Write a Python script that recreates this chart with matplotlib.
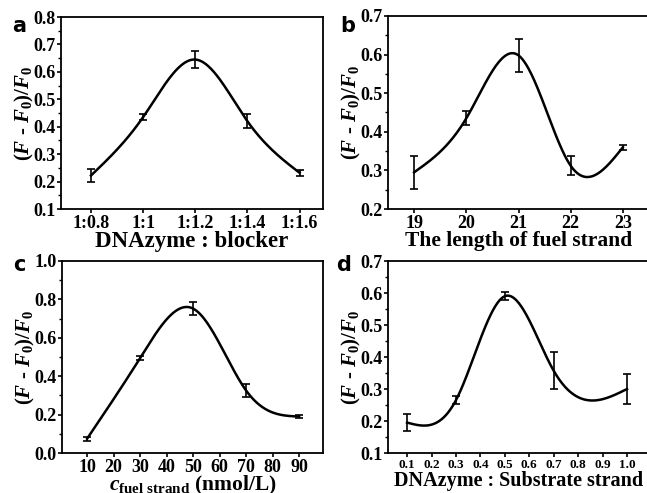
import numpy as np
import matplotlib.pyplot as plt
from matplotlib.ticker import MultipleLocator

plt.rcParams['font.family'] = ['Liberation Serif', 'DejaVu Serif']
plt.rcParams['font.weight'] = 'bold'
plt.rcParams['axes.labelweight'] = 'bold'
plt.rcParams['mathtext.fontset'] = 'custom'
plt.rcParams['mathtext.rm'] = 'Liberation Serif:bold'
plt.rcParams['mathtext.it'] = 'Liberation Serif:italic:bold'
plt.rcParams['mathtext.bf'] = 'Liberation Serif:bold'

# panel a
ratio_blocker = [0.8, 1.0, 1.2, 1.4, 1.6]
ratio_labels = ['1:0.8', '1:1', '1:1.2', '1:1.4', '1:1.6']
a_y = [0.222, 0.435, 0.645, 0.420, 0.232]
a_err = [0.025, 0.010, 0.030, 0.025, 0.010]

# panel b
fuel_len = [19, 20, 21, 22, 23]
b_y = [0.295, 0.435, 0.598, 0.312, 0.360]
b_err = [0.042, 0.018, 0.043, 0.025, 0.006]

# panel c
fuel_conc = [10, 30, 50, 70, 90]
conc_ticks = [10, 20, 30, 40, 50, 60, 70, 80, 90]
c_y = [0.075, 0.495, 0.752, 0.325, 0.190]
c_err = [0.010, 0.010, 0.035, 0.035, 0.008]

# panel d
ratio_sub = [0.1, 0.3, 0.5, 0.7, 1.0]
sub_ticks = [0.1, 0.2, 0.3, 0.4, 0.5, 0.6, 0.7, 0.8, 0.9, 1.0]
d_y = [0.195, 0.265, 0.590, 0.357, 0.300]
d_err = [0.027, 0.012, 0.012, 0.058, 0.048]


def natural_spline(x, y, n=300):
    x = np.asarray(x, float)
    y = np.asarray(y, float)
    k = len(x)
    h = np.diff(x)
    A = np.zeros((k, k))
    r = np.zeros(k)
    A[0, 0] = A[-1, -1] = 1
    for i in range(1, k - 1):
        A[i, i - 1] = h[i - 1]
        A[i, i] = 2 * (h[i - 1] + h[i])
        A[i, i + 1] = h[i]
        r[i] = 6 * ((y[i + 1] - y[i]) / h[i] - (y[i] - y[i - 1]) / h[i - 1])
    m = np.linalg.solve(A, r)
    xs = np.linspace(x[0], x[-1], n)
    idx = np.clip(np.searchsorted(x, xs) - 1, 0, k - 2)
    t0 = x[idx + 1] - xs
    t1 = xs - x[idx]
    hi = h[idx]
    ys = (m[idx] * t0 ** 3 + m[idx + 1] * t1 ** 3) / (6 * hi) \
        + (y[idx] / hi - m[idx] * hi / 6) * t0 \
        + (y[idx + 1] / hi - m[idx + 1] * hi / 6) * t1
    return xs, ys


fig = plt.figure(figsize=(6.47, 4.93), dpi=100)
W, H = 647, 493
boxes = [(61, 17, 323, 209), (388, 16, 649, 209),
         (62, 261, 323, 453), (388, 261, 649, 453)]
axes = []
for l, t, r, b in boxes:
    axes.append(fig.add_axes([l / W, 1 - b / H, (r - l) / W, (b - t) / H]))

ylab = r'($F$ - $F_0$)/$F_0$'


def draw(ax, x, y, err):
    xs, ys = natural_spline(x, y)
    ax.plot(xs, ys, color='black', lw=1.8)
    ax.errorbar(x, y, yerr=err, fmt='none', ecolor='black', elinewidth=1.2,
                capsize=3, capthick=1.2)
    for s in ax.spines.values():
        s.set_linewidth(1.3)
    ax.tick_params(which='major', direction='out', length=3, width=1.2,
                   labelsize=13, pad=1)
    ax.tick_params(which='minor', direction='out', length=2, width=1.0)
    ax.tick_params(axis='x', which='minor', bottom=False)
    ax.set_ylabel(ylab, fontsize=15, labelpad=-2)


ax = axes[0]
draw(ax, ratio_blocker, a_y, a_err)
ax.set_xlim(0.685, 1.69)
ax.set_ylim(0.1, 0.8)
ax.set_xticks(ratio_blocker)
ax.set_xticklabels(ratio_labels)
ax.yaxis.set_major_locator(MultipleLocator(0.1))
ax.yaxis.set_minor_locator(MultipleLocator(0.05))
ax.set_xlabel('DNAzyme : blocker', fontsize=16.5, labelpad=-0.5)

ax = axes[1]
draw(ax, fuel_len, b_y, b_err)
ax.set_xlim(18.5, 23.5)
ax.set_ylim(0.2, 0.7)
ax.set_xticks(fuel_len)
ax.yaxis.set_major_locator(MultipleLocator(0.1))
ax.yaxis.set_minor_locator(MultipleLocator(0.05))
ax.set_xlabel('The length of fuel strand', fontsize=15.5, labelpad=-0.5)

ax = axes[2]
draw(ax, fuel_conc, c_y, c_err)
ax.set_xlim(0.5, 99)
ax.set_ylim(0.0, 1.0)
ax.set_xticks(conc_ticks)
ax.yaxis.set_major_locator(MultipleLocator(0.2))
ax.yaxis.set_minor_locator(MultipleLocator(0.1))
ax.set_xlabel(r'$c_{\mathrm{fuel\ strand}}$ (nmol/L)', fontsize=15.5, labelpad=-1)

ax = axes[3]
draw(ax, ratio_sub, d_y, d_err)
ax.set_xlim(0.022, 1.09)
ax.set_ylim(0.1, 0.7)
ax.set_xticks(sub_ticks)
ax.set_xticklabels(['%.1f' % v for v in sub_ticks], fontsize=9.5)
ax.yaxis.set_major_locator(MultipleLocator(0.1))
ax.yaxis.set_minor_locator(MultipleLocator(0.05))
ax.set_xlabel('DNAzyme : Substrate strand', fontsize=14.5, labelpad=0)

letters = [('a', 12, 32), ('b', 340, 32), ('c', 13, 271), ('d', 336, 271)]
for s, x, y in letters:
    fig.text(x / W, 1 - y / H, s, fontsize=15, fontweight='bold',
             family=['DejaVu Sans'])

fig.savefig('out.png', dpi=100)
